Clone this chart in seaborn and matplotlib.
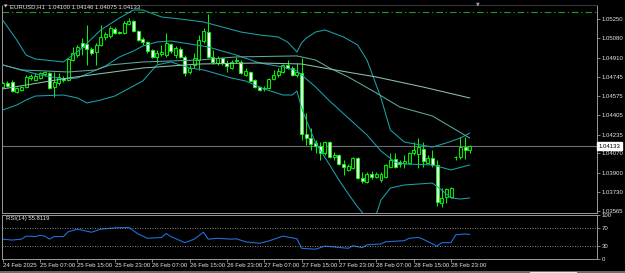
import numpy as np
import pandas as pd
import matplotlib
matplotlib.use("Agg")
import matplotlib.pyplot as plt
import matplotlib.transforms as mtransforms
from matplotlib.patches import Rectangle
import seaborn as sns

# ---------------- data (EURUSD, H1) ----------------
opens = [1.04653, 1.04689, 1.04697, 1.04610, 1.04627, 1.04653, 1.04732, 1.04715, 1.04732, 1.04768,
         1.04776, 1.04653, 1.04689, 1.04732, 1.04715, 1.04890, 1.04934, 1.05040, 1.05031, 1.04987,
         1.04961, 1.05022, 1.05092, 1.05101, 1.05162, 1.05136, 1.05127, 1.05206, 1.05233, 1.05145,
         1.05075, 1.05048, 1.04978, 1.04917, 1.04943, 1.04934, 1.05031, 1.04934, 1.04987, 1.04917,
         1.04785, 1.04847, 1.04890, 1.05057, 1.05136, 1.04917, 1.04864, 1.04908, 1.04864, 1.04820,
         1.04882, 1.04873, 1.04759, 1.04785, 1.04715, 1.04653, 1.04636, 1.04645, 1.04724, 1.04759,
         1.04785, 1.04847, 1.04820, 1.04759, 1.04776, 1.04240, 1.04205, 1.04162, 1.04135, 1.04074,
         1.04170, 1.04039, 1.04056, 1.03977, 1.03925, 1.03942, 1.04030, 1.03855, 1.03819, 1.03890,
         1.03863, 1.03837, 1.03863, 1.03951, 1.04021, 1.03995, 1.03986, 1.03986, 1.04074, 1.04065,
         1.04109, 1.03986, 1.04030, 1.03969, 1.03635, 1.03688, 1.03688, 1.04039, 1.04039, 1.04126,
         1.04100]
highs = [1.04697, 1.04706, 1.04715, 1.04653, 1.04662, 1.04759, 1.04768, 1.04776, 1.04785, 1.04794,
         1.04785, 1.04785, 1.04776, 1.04750, 1.04908, 1.05005, 1.05022, 1.05083, 1.05197, 1.05005,
         1.05040, 1.05197, 1.05136, 1.05189, 1.05180, 1.05145, 1.05233, 1.05259, 1.05241, 1.05154,
         1.05092, 1.05057, 1.04987, 1.04978, 1.05022, 1.05127, 1.05040, 1.05013, 1.05005, 1.04934,
         1.04847, 1.04952, 1.05110, 1.05171, 1.05294, 1.04978, 1.04926, 1.04917, 1.04890, 1.04890,
         1.04917, 1.04890, 1.04820, 1.04794, 1.04724, 1.04662, 1.04662, 1.04732, 1.04803, 1.04820,
         1.04855, 1.04890, 1.04838, 1.04864, 1.04908, 1.04425, 1.04293, 1.04188, 1.04170, 1.04179,
         1.04179, 1.04083, 1.04065, 1.04012, 1.03977, 1.04039, 1.04039, 1.03907, 1.03907, 1.03916,
         1.03907, 1.03907, 1.03977, 1.04074, 1.04074, 1.04012, 1.04056, 1.04083, 1.04170, 1.04205,
         1.04170, 1.04056, 1.04100, 1.04012, 1.03766, 1.03766, 1.03775, 1.04048, 1.04214, 1.04214,
         1.04146]
lows = [1.04645, 1.04653, 1.04610, 1.04601, 1.04618, 1.04645, 1.04715, 1.04706, 1.04724, 1.04750,
        1.04636, 1.04565, 1.04671, 1.04697, 1.04706, 1.04882, 1.04917, 1.04934, 1.04847, 1.04934,
        1.04847, 1.05013, 1.05066, 1.05083, 1.05119, 1.05119, 1.05119, 1.05197, 1.05136, 1.05057,
        1.05022, 1.04952, 1.04908, 1.04864, 1.04926, 1.04917, 1.04952, 1.04908, 1.04908, 1.04750,
        1.04768, 1.04820, 1.04803, 1.05040, 1.04908, 1.04855, 1.04847, 1.04847, 1.04785, 1.04811,
        1.04864, 1.04768, 1.04750, 1.04697, 1.04645, 1.04618, 1.04618, 1.04636, 1.04715, 1.04741,
        1.04776, 1.04811, 1.04750, 1.04741, 1.04188, 1.04144, 1.04100, 1.04074, 1.04012, 1.04056,
        1.04030, 1.04012, 1.03969, 1.03881, 1.03916, 1.03934, 1.03846, 1.03811, 1.03811, 1.03846,
        1.03855, 1.03819, 1.03855, 1.03942, 1.03942, 1.03951, 1.03942, 1.03977, 1.04056, 1.03942,
        1.03951, 1.03977, 1.03951, 1.03608, 1.03600, 1.03635, 1.03679, 1.04012, 1.04021, 1.04021,
        1.04075]
closes = [1.04689, 1.04662, 1.04618, 1.04645, 1.04653, 1.04741, 1.04750, 1.04750, 1.04776, 1.04785,
          1.04645, 1.04697, 1.04741, 1.04715, 1.04899, 1.04952, 1.05005, 1.05005, 1.04987, 1.04952,
          1.05022, 1.05092, 1.05119, 1.05171, 1.05127, 1.05127, 1.05215, 1.05233, 1.05145, 1.05066,
          1.05048, 1.04969, 1.04917, 1.04952, 1.04961, 1.05040, 1.04969, 1.04996, 1.04917, 1.04776,
          1.04820, 1.04908, 1.05066, 1.05145, 1.04917, 1.04873, 1.04908, 1.04864, 1.04838, 1.04873,
          1.04890, 1.04776, 1.04794, 1.04706, 1.04653, 1.04627, 1.04645, 1.04724, 1.04759, 1.04794,
          1.04847, 1.04820, 1.04759, 1.04785, 1.04240, 1.04205, 1.04153, 1.04135, 1.04074, 1.04170,
          1.04039, 1.04056, 1.03977, 1.03951, 1.03960, 1.04030, 1.03855, 1.03828, 1.03890, 1.03863,
          1.03890, 1.03890, 1.03969, 1.04012, 1.03951, 1.03977, 1.04004, 1.04074, 1.04100, 1.04126,
          1.04004, 1.04030, 1.03969, 1.03644, 1.03679, 1.03758, 1.03766, 1.04043, 1.04126, 1.04100,
          1.04133]

# Bollinger Bands (20, 2) read at sample bars
bb_upper_idx = [0, 3, 5, 7, 13, 17, 21, 25, 28, 30, 34, 38, 43, 47, 51, 55, 59, 61, 63, 64, 65, 67,
                69, 73, 76, 78, 81, 83, 86, 92, 95, 98, 100]
bb_upper = [1.05241, 1.05066, 1.04934, 1.04899, 1.04873, 1.04996, 1.05154, 1.05259, 1.05329, 1.05329,
            1.05268, 1.05250, 1.05224, 1.05180, 1.05136, 1.05110, 1.05092, 1.05048, 1.04961, 1.05040,
            1.05083, 1.05136, 1.05154, 1.05092, 1.05022, 1.04890, 1.04557, 1.04276, 1.04170, 1.04126,
            1.04162, 1.04205, 1.04249]
bb_mid_idx = [0, 4, 8, 13, 16, 19, 22, 25, 28, 30, 33, 36, 40, 44, 47, 50, 55, 60, 63, 64, 67, 70,
              74, 78, 81, 84, 86, 92, 96, 100]
bb_mid = [1.04847, 1.04803, 1.04759, 1.04724, 1.04732, 1.04785, 1.04838, 1.04917, 1.04969, 1.05013,
          1.05048, 1.05057, 1.05031, 1.05005, 1.04969, 1.04934, 1.04864, 1.04829, 1.04794, 1.04759,
          1.04653, 1.04530, 1.04381, 1.04232, 1.04091, 1.03995, 1.03977, 1.03969, 1.03925, 1.03969]
bb_lower_idx = [0, 3, 5, 7, 13, 16, 18, 21, 24, 28, 30, 33, 36, 40, 43, 46, 49, 52, 56, 60, 62, 63,
                64, 65, 67, 70, 72, 74, 76, 78, 79, 80, 81, 83, 86, 92, 94, 96, 98, 100]
bb_lower = [1.04451, 1.04495, 1.04539, 1.04574, 1.04583, 1.04557, 1.04513, 1.04539, 1.04574, 1.04662,
            1.04706, 1.04847, 1.04873, 1.04820, 1.04803, 1.04768, 1.04732, 1.04706, 1.04636, 1.04583,
            1.04583, 1.04618, 1.04469, 1.04363, 1.04162, 1.03969, 1.03837, 1.03714, 1.03600, 1.03503,
            1.03468, 1.03538, 1.03661, 1.03766, 1.03793, 1.03810, 1.03749, 1.03679, 1.03670, 1.03679]

# Moving averages read at sample bars
ma50_idx = [0, 4, 14, 20, 23, 30, 42, 50, 63, 67, 70, 74, 80, 85, 92, 100]
ma50 = [1.04847, 1.04803, 1.04785, 1.04803, 1.04847, 1.04873, 1.04890, 1.04917, 1.04926, 1.04890,
        1.04820, 1.04741, 1.04601, 1.04478, 1.04399, 1.04205]
ma100_idx = [0, 14, 30, 42, 55, 64, 70, 80, 90, 100]
ma100 = [1.04636, 1.04732, 1.04820, 1.04855, 1.04864, 1.04855, 1.04811, 1.04741, 1.04653, 1.04557]

# RSI(14) read at sample bars
rsi_idx = [0, 2, 4, 5, 7, 8, 9, 10, 11, 13, 14, 16, 19, 21, 24, 27, 29, 31, 34, 35, 36, 39, 41, 43,
           44, 46, 49, 50, 52, 55, 57, 60, 63, 64, 67, 69, 72, 74, 75, 77, 78, 81, 82, 86, 87, 89,
           90, 93, 94, 96, 97, 99, 100]
rsi = [45, 43, 45, 52, 51, 54, 52, 45, 51, 51, 62, 68, 61, 68, 71, 72, 57, 47, 49, 58, 51, 37, 45, 61,
       45, 47, 45, 46, 39, 35.5, 41, 52, 46, 24, 22, 29, 26, 24, 30, 25.5, 32, 34, 39, 41.5, 47, 49,
       45, 29, 37, 37, 55, 57, 55.8119]

price_ticks = [1.05250, 1.05080, 1.04910, 1.04745, 1.04575, 1.04405, 1.04235, 1.04070, 1.03900,
               1.03730, 1.03565]
time_tick_idx = [0, 8, 16, 24, 32, 40, 48, 56, 64, 72, 80, 88, 96]
time_tick_labels = ["24 Feb 2025", "25 Feb 07:00", "25 Feb 15:00", "25 Feb 23:00", "26 Feb 07:00",
                    "26 Feb 15:00", "26 Feb 23:00", "27 Feb 07:00", "27 Feb 15:00", "27 Feb 23:00",
                    "28 Feb 07:00", "28 Feb 15:00", "28 Feb 23:00"]
rsi_ticks = [100, 70, 30, 0]
level_line = 1.05311
bid_price = 1.04133
title_text = "EURUSD,H1  1.04100 1.04146 1.04075 1.04133"
rsi_title = "RSI(14) 55.8119"

# ---------------- style ----------------
sns.set_style("dark", {"axes.facecolor": "black", "figure.facecolor": "black",
                       "axes.edgecolor": "#9a9a9a", "grid.color": "black"})
plt.rcParams['font.family'] = ['Liberation Sans', 'DejaVu Sans']

W, H = 625, 273
fig = plt.figure(figsize=(6.25, 2.73), dpi=100, facecolor="black")


def fx(px):
    return px / W


def fy(py):
    return 1 - py / H


ax = fig.add_axes([fx(2), fy(213), fx(597) - fx(2), fy(5) - fy(213)])
rax = fig.add_axes([fx(2), fy(258.75), fx(597) - fx(2), fy(215.25) - fy(258.75)])

FS = 4.3
TXT = "#e6e6e6"
LIME = "#00ff00"
for a in (ax, rax):
    a.set_facecolor("black")
    a.grid(False)
    for s in a.spines.values():
        s.set_color("#9a9a9a")
        s.set_linewidth(0.7)
    a.set_xlim(-0.15, 127.25)
ax.spines["top"].set_color("#3a3a3a")

ax.set_ylim(1.03547, 1.05373)

# ---------------- candles ----------------
df = pd.DataFrame({"o": opens, "h": highs, "l": lows, "c": closes})
df["i"] = np.arange(len(df))
bull = df["c"] >= df["o"]
ax.vlines(df["i"], df["l"], df["h"], color=LIME, linewidth=0.7, zorder=2)
body_bot = np.minimum(df["o"], df["c"])
body_h = np.maximum(np.abs(df["c"] - df["o"]), 0.00003)
ax.bar(df["i"][bull], body_h[bull], bottom=body_bot[bull], width=0.64,
       color="#021a02", edgecolor=LIME, linewidth=0.65, zorder=3)
ax.bar(df["i"][~bull], body_h[~bull], bottom=body_bot[~bull], width=0.64,
       color="white", edgecolor=LIME, linewidth=0.65, zorder=3)

# ---------------- indicator lines ----------------
BB = "#1aa3ab"
sns.lineplot(x=bb_upper_idx, y=bb_upper, ax=ax, color=BB, linewidth=0.75, zorder=4)
sns.lineplot(x=bb_mid_idx, y=bb_mid, ax=ax, color=BB, linewidth=0.75, zorder=4)
sns.lineplot(x=bb_lower_idx, y=bb_lower, ax=ax, color=BB, linewidth=0.75, zorder=4)
sns.lineplot(x=ma50_idx, y=ma50, ax=ax, color="#5fa79d", linewidth=0.75, zorder=4)
sns.lineplot(x=ma100_idx, y=ma100, ax=ax, color="#8cc2ab", linewidth=0.75, zorder=4)

ax.axhline(level_line, color="#1f9b1f", linewidth=0.8, linestyle=(0, (6, 2.5, 1.2, 2.5)), zorder=1)
ax.axhline(bid_price, color="#6e6e6e", linewidth=0.8, zorder=1)

# price axis
ax.yaxis.tick_right()
ax.set_yticks(price_ticks)
ax.set_yticklabels([f"{p:.5f}" for p in price_ticks])
ax.tick_params(axis="y", colors="#9a9a9a", labelcolor=TXT, labelsize=FS, length=2,
               width=0.6, pad=1.5, right=True, left=False)
ax.tick_params(axis="x", bottom=False, labelbottom=False)
ax.set_xlabel("")
ax.set_ylabel("")
trans = mtransforms.blended_transform_factory(ax.transAxes, ax.transData)
ax.text(1.003, bid_price, f"{bid_price:.5f}", transform=trans, fontsize=FS, color="black",
        ha="left", va="center", zorder=6,
        bbox=dict(boxstyle="square,pad=0.25", facecolor="white", edgecolor="white"))

# ---------------- RSI ----------------
rax.set_ylim(0, 100)
sns.lineplot(x=rsi_idx, y=rsi, ax=rax, color="#1f6fd6", linewidth=0.8)
for lv in (70, 30):
    rax.axhline(lv, color="#b4b4b4", linewidth=0.6, linestyle=(0, (1, 2)))
rax.yaxis.tick_right()
rax.set_yticks(rsi_ticks)
rax.set_yticklabels([str(v) for v in rsi_ticks])
rax.tick_params(axis="y", colors="#9a9a9a", labelcolor=TXT, labelsize=FS, length=2,
                width=0.6, pad=1.5, right=True, left=False)
rax.set_xticks(time_tick_idx)
rax.set_xticklabels(time_tick_labels)
rax.tick_params(axis="x", colors="#9a9a9a", labelcolor=TXT, labelsize=FS, length=2,
                width=0.6, pad=1.2, bottom=True)
for lab in rax.get_xticklabels():
    lab.set_horizontalalignment("left")
rax.set_xlabel("")
rax.set_ylabel("")
rax.text(0.006, 0.93, rsi_title, transform=rax.transAxes, fontsize=FS, color=TXT,
         ha="left", va="center")

# ---------------- titles / decorations ----------------
fig.text(fx(4), fy(7), "\u25BC", fontsize=3.2, color="#d0d0d0", ha="left", va="center",
         family="DejaVu Sans")
fig.text(fx(10), fy(7), title_text, fontsize=FS, color=TXT, ha="left", va="center")
fig.text(fx(478), fy(3.5), "\u25BC", fontsize=3.5, color="#a0a0a0", ha="center", va="center",
         family="DejaVu Sans")
fig.patches.append(Rectangle((0, 0), 1, 2 / H, transform=fig.transFigure,
                             facecolor="#6a6a6a", edgecolor="none"))
fig.patches.append(Rectangle((fx(530), 0), fx(577) - fx(530), 1.5 / H, transform=fig.transFigure,
                             facecolor="#e8e8e8", edgecolor="none"))

fig.savefig("out.png", dpi=100, facecolor="black")
